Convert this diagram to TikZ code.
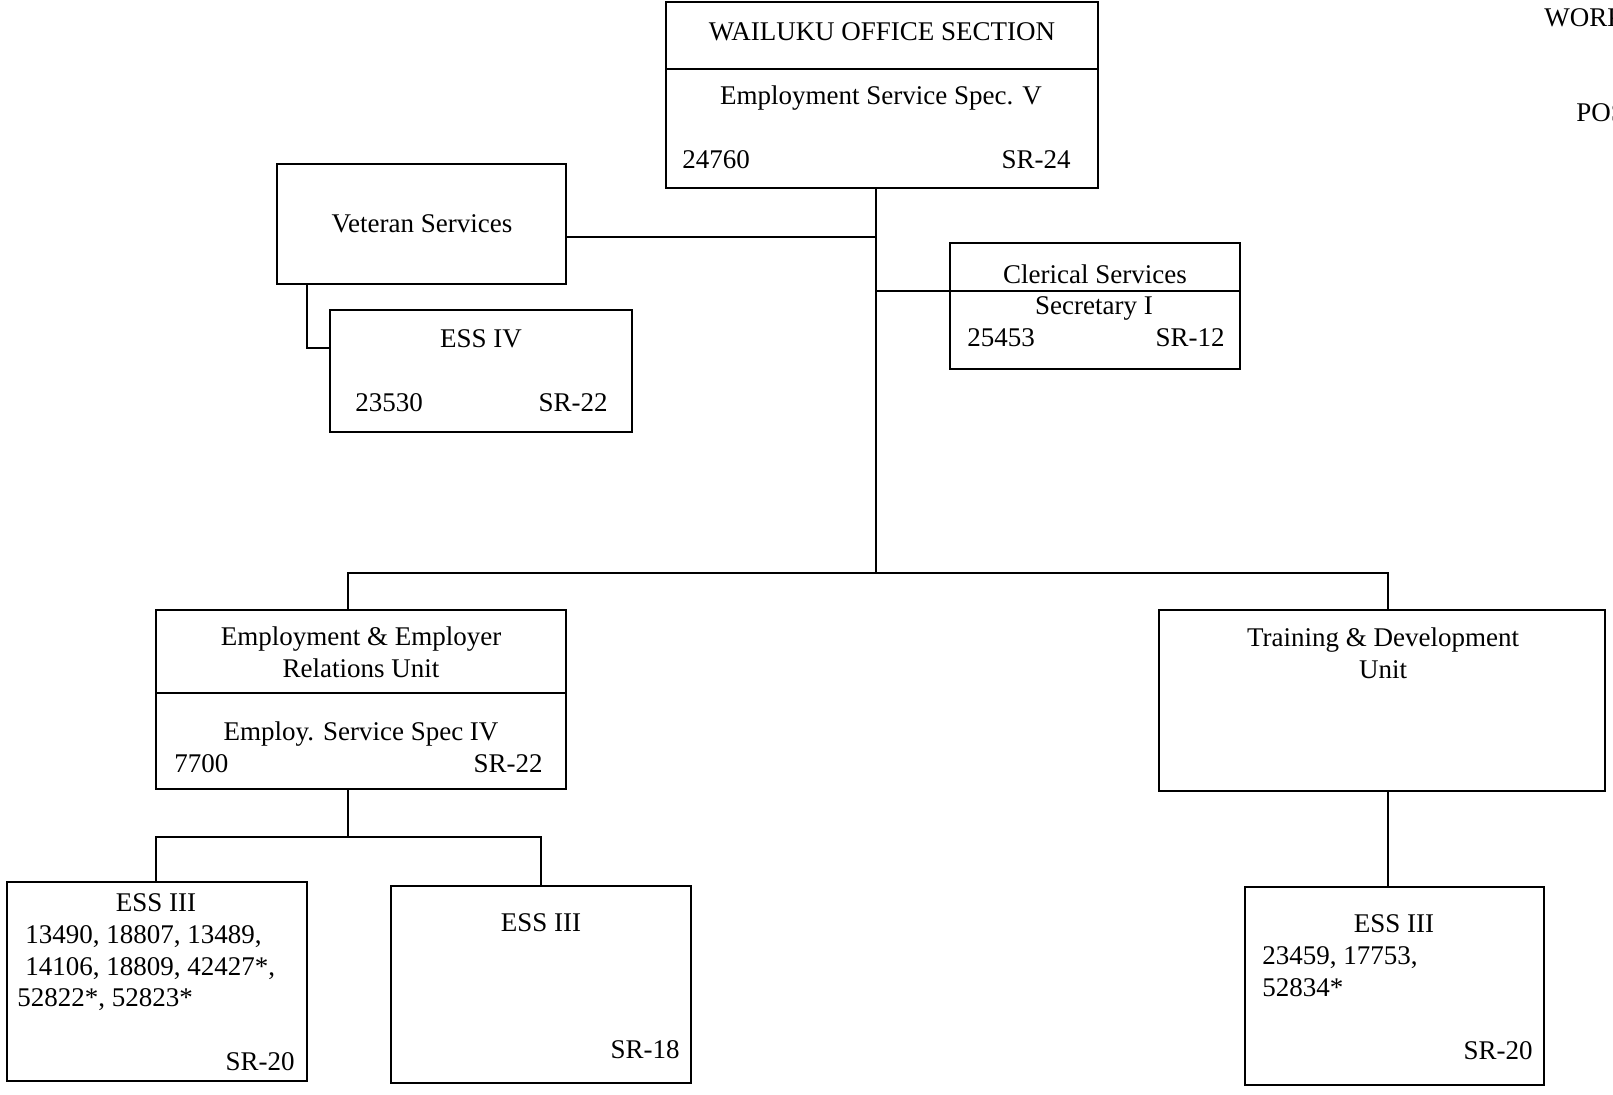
\documentclass[tikz,border=0pt]{standalone}
\usepackage{fontspec}
\setmainfont{Liberation Serif}
\usepackage{tikz}
\usetikzlibrary{positioning}
\tikzset{
	x=0.5pt, y=-0.5pt, % one unit is one pixel of the chart, y goes down
	box/.style={draw, line width=1pt, inner sep=0pt}, % the frame of each post
	conn/.style={line width=0.6pt}, % the lines between the posts
	lbl/.style={inner sep=0pt, font=\fontsize{13.5}{16}\selectfont}, % every text
}

\begin{document}
\begin{tikzpicture}
	\useasboundingbox (0,0) rectangle (1613,1094);
	\clip (0,0) rectangle (1613,1094);
			% posts
			\node[box, minimum width=216pt, minimum height=93pt] (top) at (882,95) {};
			\node[box, minimum width=144.5pt, minimum height=60pt] (vet) at (421.5,224) {};
			\node[box, minimum width=151pt, minimum height=61pt] (essiv) at (481,371) {};
			\node[box, minimum width=145pt, minimum height=63pt] (cler) at (1095,306) {};
			\node[box, minimum width=205pt, minimum height=89.5pt] (eer) at (361,699.5) {};
			\node[box, minimum width=223pt, minimum height=90.5pt] (tdu) at (1382,700.5) {};
			\node[box, minimum width=150pt, minimum height=99.5pt] (essA) at (157,981.5) {};
			\node[box, minimum width=150pt, minimum height=98.5pt] (essB) at (541,984.5) {};
			\node[box, minimum width=149.5pt, minimum height=99pt] (essC) at (1394.5,986) {};
			% dividers
			\coordinate (topdiv) at (0,69);
			\coordinate (clerdiv) at (0,291);
			\coordinate (eerdiv) at (0,693);
	\draw[conn] (topdiv -| top.west) -- (topdiv -| top.east);
	\draw[conn] (clerdiv -| cler.west) -- (clerdiv -| cler.east);
	\draw[conn] (eerdiv -| eer.west) -- (eerdiv -| eer.east);
			% texts
			\node[lbl] (topT) at (882,32) {WAILUKU OFFICE SECTION};
			\node[lbl] (topS) at (881,98) {Employment Service Spec. V};
			\node[lbl, anchor=mid west] (topN) at (682,164) {24760};
			\node[lbl, anchor=mid east] (topR) at (1071,164) {SR-24};
			\node[lbl] (vetT) at (422,224) {Veteran Services};
			\node[lbl] (essivT) at (481,339) {ESS IV};
			\node[lbl, anchor=mid west] (essivN) at (355,407) {23530};
			\node[lbl, anchor=mid east] (essivR) at (608,407) {SR-22};
			\node[lbl] (clerT) at (1095,274) {Clerical Services};
			\node[lbl] (clerS) at (1094,308) {Secretary I};
			\node[lbl, anchor=mid west] (clerN) at (967,342) {25453};
			\node[lbl, anchor=mid east] (clerR) at (1225,342) {SR-12};
			\node[lbl, align=center] (eerT) at (361,652) {Employment \& Employer\\Relations Unit};
			\node[lbl] (eerS) at (361,734) {Employ. Service Spec IV};
			\node[lbl, anchor=mid west] (eerN) at (174,768) {7700};
			\node[lbl, anchor=mid east] (eerR) at (543,768) {SR-22};
			\node[lbl, align=center] (tduT) at (1383,653) {Training \& Development\\Unit};
			\node[lbl] (essAT) at (156,903) {ESS III};
			\node[lbl, anchor=mid west] (essA1) at (25,939) {13490, 18807, 13489,};
			\node[lbl, anchor=mid west] (essA2) at (25,971) {14106, 18809, 42427*,};
			\node[lbl, anchor=mid west] (essA3) at (17,1002) {52822*, 52823*};
			\node[lbl, anchor=mid east] (essAR) at (295,1066) {SR-20};
			\node[lbl] (essBT) at (541,923) {ESS III};
			\node[lbl, anchor=mid east] (essBR) at (680,1054) {SR-18};
			\node[lbl] (essCT) at (1394,924) {ESS III};
			\node[lbl, anchor=mid west] (essC1) at (1262,960) {23459, 17753,};
			\node[lbl, anchor=mid west] (essC2) at (1262,992) {52834*};
			\node[lbl, anchor=mid east] (essCR) at (1533,1055) {SR-20};
			\node[lbl, anchor=mid west] (work) at (1544,22) {WORK};
			\node[lbl, anchor=mid west] (pos) at (1576,117) {POS};
			% junctions
			\coordinate (bus) at (876,573);
			\coordinate (vetj) at (876,237);
			\coordinate (clerj) at (876,291);
			\coordinate (vetdrop) at (307,348);
			\coordinate (busL) at (348,573);
			\coordinate (busR) at (1388,573);
			\coordinate (subj) at (348,837);
			\coordinate (subL) at (156,837);
			\coordinate (subR) at (541,837);
	\draw[conn] (top.south -| bus) -- (bus);
	\draw[conn] (vet.east |- vetj) -- (vetj);
	\draw[conn] (clerj) -- (clerj -| cler.west);
	\draw[conn] (vet.south -| vetdrop) -- (vetdrop) -- (vetdrop -| essiv.west);
	\draw[conn] (busL |- eer.north) -- (busL) -- (busR) -- (busR |- tdu.north);
	\draw[conn] (eer.south -| subj) -- (subj);
	\draw[conn] (subL |- essA.north) -- (subL) -- (subR) -- (subR |- essB.north);
	\draw[conn] (tdu.south -| busR) -- (essC.north -| busR);
	\end{tikzpicture}
\end{document}
